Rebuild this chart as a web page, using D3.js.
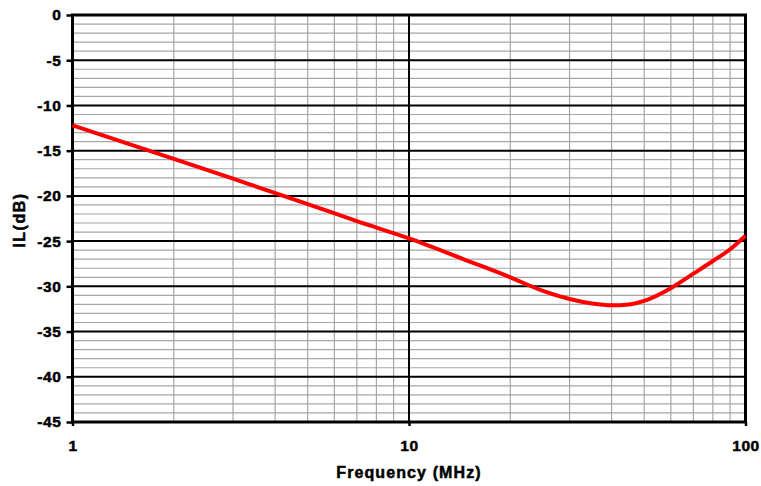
<!DOCTYPE html>
<html><head><meta charset="utf-8">
<script src="https://cdn.jsdelivr.net/npm/d3@7"></script>
<style>body{margin:0;background:#fff}svg text{font-family:"Liberation Sans",Arial,sans-serif;font-weight:bold;fill:#000;stroke:#000;stroke-width:0.5px}</style>
</head><body>
<svg id="c" width="761" height="486"></svg>
<script>
const freqs = [1, 2, 3, 5, 7, 10, 15, 20, 25, 30, 35, 40, 45, 50, 60, 70, 80, 90, 100];
const ilValues = [-12.2, -15.9, -18.1, -20.9, -22.8, -24.7, -27.2, -29.0, -30.5, -31.4, -31.9, -32.1, -32.0, -31.6, -30.2, -28.6, -27.2, -25.9, -24.4];
const xMajorTicks = [1, 10, 100];
const yMajorTicks = [0, -5, -10, -15, -20, -25, -30, -35, -40, -45];

const svg = d3.select("#c");
const L = 72.5, R = 745.5, T = 15, B = 422;
const x = d3.scaleLog().domain([1, 100]).range([L, R]);
const y = d3.scaleLinear().domain([-45, 0]).range([B, T]);

// minor grid
const xMinor = [];
for (let d = 1; d < 100; d *= 10) for (let k = 2; k <= 9; k++) xMinor.push(d * k);
const yMinor = d3.range(-45, 1, 1).filter(v => v % 5 !== 0);
svg.append("g").selectAll("line").data(yMinor).join("line")
  .attr("x1", L).attr("x2", R).attr("y1", d => y(d)).attr("y2", d => y(d))
  .attr("stroke", "#a6a6a6").attr("stroke-width", 1.2);
svg.append("g").selectAll("line").data(xMinor).join("line")
  .attr("y1", T).attr("y2", B).attr("x1", d => x(d)).attr("x2", d => x(d))
  .attr("stroke", "#a6a6a6").attr("stroke-width", 1.2);
// major grid
svg.append("g").selectAll("line").data(yMajorTicks).join("line")
  .attr("x1", L).attr("x2", R).attr("y1", d => y(d)).attr("y2", d => y(d))
  .attr("stroke", "#000").attr("stroke-width", 2);
svg.append("g").selectAll("line").data(xMajorTicks).join("line")
  .attr("y1", T).attr("y2", B).attr("x1", d => x(d)).attr("x2", d => x(d))
  .attr("stroke", "#000").attr("stroke-width", 2);

// frame
svg.append("rect").attr("x", L).attr("y", T).attr("width", R - L).attr("height", B - T)
  .attr("fill", "none").attr("stroke", "#000").attr("stroke-width", 3);

// axes
const yAxis = d3.axisLeft(y).tickValues(yMajorTicks).tickSize(6).tickPadding(5).tickFormat(d => String(d));
const gy = svg.append("g").attr("transform", `translate(${L},0)`).call(yAxis);
gy.select(".domain").remove();
gy.selectAll(".tick line").attr("stroke-width", 2.5);
gy.selectAll("text").attr("font-size", 15.5).attr("letter-spacing", 0.6);

const xAxis = d3.axisBottom(x).tickValues(xMajorTicks).tickSize(4).tickPadding(14).tickFormat(d => String(d));
const gx = svg.append("g").attr("transform", `translate(0,${B})`).call(xAxis);
gx.select(".domain").remove();
gx.selectAll(".tick line").attr("stroke-width", 2.5);
gx.selectAll("text").attr("font-size", 15.5).attr("letter-spacing", 0.6);

// curve
const line = d3.line().x(d => x(d[0])).y(d => y(d[1])).curve(d3.curveMonotoneX);
svg.append("path").datum(freqs.map((f, i) => [f, ilValues[i]]))
  .attr("d", line).attr("fill", "none").attr("stroke", "#ff0000").attr("stroke-width", 4);

// titles
svg.append("text").attr("x", (L + R) / 2).attr("y", 478).attr("text-anchor", "middle")
  .attr("font-size", 16).attr("letter-spacing", 1.1).text("Frequency (MHz)");
svg.append("text").attr("transform", `translate(25,220) rotate(-90)`).attr("text-anchor", "middle")
  .attr("font-size", 16).attr("letter-spacing", 1.5).text("IL(dB)");
</script>
</body></html>
